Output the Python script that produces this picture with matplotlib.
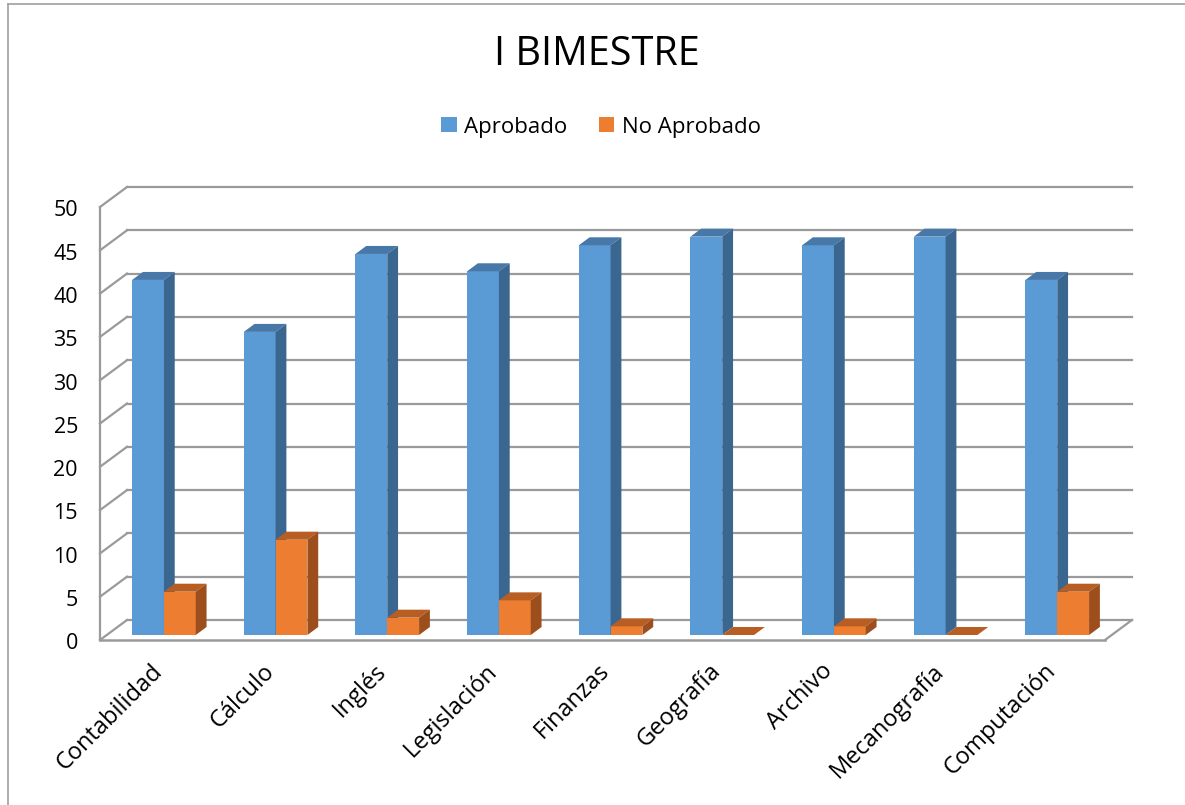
import matplotlib
matplotlib.use("Agg")
import matplotlib.pyplot as plt
from matplotlib.patches import Polygon, Patch
from matplotlib.lines import Line2D

# ---- data ----
categories = ["Contabilidad", "Cálculo", "Inglés", "Legislación", "Finanzas",
              "Geografía", "Archivo", "Mecanografía", "Computación"]
aprobado = [41, 35, 44, 42, 45, 46, 45, 46, 41]
no_aprobado = [5, 11, 2, 4, 1, 0, 1, 0, 5]
series_names = ["Aprobado", "No Aprobado"]
y_ticks = [0, 5, 10, 15, 20, 25, 30, 35, 40, 45, 50]
title = "I BIMESTRE"

# ---- style ----
plt.rcParams['font.family'] = ['Open Sans', 'DejaVu Sans']
front_cols = ["#5B9BD5", "#ED7D31"]
top_cols = ["#4878A8", "#B95E22"]
side_cols = ["#3A6690", "#9C4E1C"]
grid_col = "#9A9A9A"

W, H = 1185, 805
fig = plt.figure(figsize=(W / 100, H / 100), dpi=100)
ax = fig.add_axes([0, 0, 1, 1])

# pixel geometry of the front axis
px_x0, px_x1 = 100, 1105      # x of category 0 and category 9 (front)
px_y0, px_y50 = 640, 207      # y (from top) of value 0 and 50 (front)
sx = (px_x1 - px_x0) / len(categories)
sy = (px_y0 - px_y50) / 50.0
ax.set_xlim(-px_x0 / sx, (W - px_x0) / sx)
ax.set_ylim(-(H - px_y0) / sy, px_y0 / sy)
ax.axis("off")

DX = 27 / sx   # depth offset in data units
DY = 20 / sy


def P(x, y, z):
    return (x + z * DX, y + z * DY)


n = len(categories)
# back wall gridlines and left wall diagonals
for v in y_ticks:
    ax.add_line(Line2D(*zip(P(0, v, 1), P(n, v, 1)), color=grid_col, lw=1.6, zorder=1))
    ax.add_line(Line2D(*zip(P(0, v, 0), P(0, v, 1)), color=grid_col, lw=1.6, zorder=1))
# left front vertical
ax.add_line(Line2D(*zip(P(0, 0, 0), P(0, 50, 0)), color=grid_col, lw=1.6, zorder=1))
# floor front & right edge
ax.add_line(Line2D(*zip(P(0, 0, 0), P(n, 0, 0)), color=grid_col, lw=1.8, zorder=5))
ax.add_line(Line2D(*zip(P(n, 0, 0), P(n, 0, 1)), color=grid_col, lw=1.6, zorder=1))

# bars
w = 0.285
off = 0.227
zf, zb = 0.25, 0.65
for i in range(n):
    for j, vals in enumerate([aprobado, no_aprobado]):
        v = vals[i]
        x0 = i + off + j * w
        zo = 3 + j
        ax.bar(x0 + zf * DX, v, width=w, bottom=zf * DY, align="edge",
               color=front_cols[j], edgecolor="none", zorder=zo)
        top = [P(x0, v, zf), P(x0 + w, v, zf), P(x0 + w, v, zb), P(x0, v, zb)]
        ax.add_patch(Polygon(top, closed=True, facecolor=top_cols[j],
                             edgecolor="none", zorder=zo))
        if v > 0:
            side = [P(x0 + w, 0, zf), P(x0 + w, v, zf), P(x0 + w, v, zb), P(x0 + w, 0, zb)]
            ax.add_patch(Polygon(side, closed=True, facecolor=side_cols[j],
                                 edgecolor="none", zorder=zo))

# y tick labels
for v in y_ticks:
    ax.text((78 - px_x0) / sx, v - 0.45, str(v), ha="right", va="center",
            fontsize=15.5, color="black")

# x tick labels
for i, c in enumerate(categories):
    ax.text(i + 0.53, -3.2, c, rotation=45, rotation_mode="anchor",
            ha="right", va="center", fontsize=17, color="black")

# title
fig.text(597 / W, 1 - 55 / H, title, ha="center", va="center", fontsize=28.5)

# legend
handles = [Patch(facecolor=front_cols[k], edgecolor="none") for k in range(2)]
fig.legend(handles, series_names, loc="center", bbox_to_anchor=(601 / W, 1 - 127 / H),
           ncol=2, frameon=False, fontsize=16, handlelength=0.7, handleheight=0.7,
           handletextpad=0.35, columnspacing=1.4)

# chart border (top and left edges visible)
fig.add_artist(Line2D([8 / W, 1], [1 - 4 / H, 1 - 4 / H], transform=fig.transFigure,
                      color="#A0A0A0", lw=1.2))
fig.add_artist(Line2D([8 / W, 8 / W], [0, 1 - 4 / H], transform=fig.transFigure,
                      color="#A0A0A0", lw=1.2))

fig.savefig("out.png", dpi=100, facecolor="white")
